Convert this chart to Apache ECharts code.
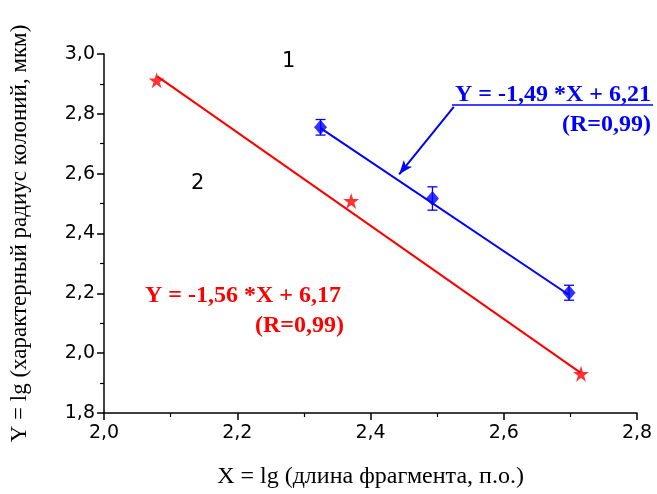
<!DOCTYPE html>
<html>
<head>
<meta charset="utf-8">
<script src="https://cdn.jsdelivr.net/npm/echarts@6/dist/echarts.min.js"></script>
<style>
  html, body { margin: 0; padding: 0; background: #fff; }
  #chart { width: 657px; height: 494px; }
</style>
</head>
<body>
<div id="chart"></div>
<script>
// Series 2 (red stars) and its linear fit
const redX = [2.079, 2.371, 2.716];
const redY = [2.912, 2.509, 1.931];
const redFitX = [2.08, 2.715];
const redFitY = [2.925, 1.935];

// Series 1 (blue diamonds with error bars) and its linear fit
const blueX = [2.325, 2.493, 2.698];
const blueY = [2.755, 2.517, 2.202];
const blueErr = [0.026, 0.039, 0.025];
const blueFitX = [2.325, 2.697];
const blueFitY = [2.752, 2.196];

// Axis ticks
const xTicks = [2.0, 2.2, 2.4, 2.6, 2.8];
const yTicks = [1.8, 2.0, 2.2, 2.4, 2.6, 2.8, 3.0];

// Arrow pointing from the blue equation to the blue fit line
const arrowFrom = [2.525, 2.823];
const arrowTo = [2.443, 2.598];

const RED = '#ff0000';
const BLUE = '#0000ff';
const STAR = 'path://M50,0 L61.2,34.5 L97.6,34.5 L68.2,55.9 L79.4,90.5 L50,69.1 L20.6,90.5 L31.8,55.9 L2.4,34.5 L38.8,34.5 Z';

const fmt = v => v.toFixed(1).replace('.', ',');
const zip = (a, b) => a.map((v, i) => [v, b[i]]);

const chart = echarts.init(document.getElementById('chart'));

const tickFont = { fontFamily: 'DejaVu Sans', fontSize: 19, color: '#000' };
const serif = 'Liberation Serif, Times New Roman, serif';

chart.setOption({
  animation: false,
  backgroundColor: '#fff',
  grid: { left: 102, right: 20, top: 54, bottom: 73, containLabel: false },
  xAxis: {
    type: 'value',
    min: xTicks[0], max: xTicks[xTicks.length - 1], interval: 0.2,
    name: 'X = lg (длина фрагмента, п.о.)',
    nameLocation: 'middle', nameGap: 52,
    nameTextStyle: { fontFamily: serif, fontSize: 24, color: '#000' },
    axisLine: { lineStyle: { color: '#000', width: 1.5 } },
    axisTick: { inside: false, length: 7, lineStyle: { color: '#000', width: 1.5 } },
    minorTick: { show: true, splitNumber: 2, length: 4, lineStyle: { color: '#000', width: 1.2 } },
    splitLine: { show: false },
    axisLabel: Object.assign({ margin: 11, formatter: fmt }, tickFont)
  },
  yAxis: {
    type: 'value',
    min: yTicks[0], max: yTicks[yTicks.length - 1], interval: 0.2,
    name: 'Y = lg (характерный радиус колоний, мкм)',
    nameLocation: 'middle', nameGap: 73,
    nameTextStyle: { fontFamily: serif, fontSize: 23, color: '#000' },
    axisLine: { show: true, lineStyle: { color: '#000', width: 1.5 } },
    axisTick: { show: true, inside: false, length: 7, lineStyle: { color: '#000', width: 1.5 } },
    minorTick: { show: true, splitNumber: 2, length: 4, lineStyle: { color: '#000', width: 1.2 } },
    splitLine: { show: false },
    axisLabel: Object.assign({ margin: 9, formatter: fmt }, tickFont)
  },
  series: [
    {
      name: 'fit2', type: 'line', data: zip(redFitX, redFitY),
      symbol: 'none', lineStyle: { color: RED, width: 2 }, z: 2
    },
    {
      name: 'fit1', type: 'line', data: zip(blueFitX, blueFitY),
      symbol: 'none', lineStyle: { color: BLUE, width: 2 }, z: 2,
      markLine: {
        silent: true, symbol: ['none', 'arrow'], symbolSize: [8, 14],
        label: { show: false },
        lineStyle: { color: BLUE, width: 2, type: 'solid' },
        data: [[{ coord: arrowFrom }, { coord: arrowTo }]]
      }
    },
    {
      name: 'err1', type: 'custom', z: 3,
      data: blueX.map((x, i) => [x, blueY[i] - blueErr[i], blueY[i] + blueErr[i]]),
      renderItem: (params, api) => {
        const lo = api.coord([api.value(0), api.value(1)]);
        const hi = api.coord([api.value(0), api.value(2)]);
        const w = 5;
        const style = { stroke: BLUE, lineWidth: 1.3 };
        return {
          type: 'group',
          children: [
            { type: 'line', shape: { x1: lo[0], y1: lo[1], x2: hi[0], y2: hi[1] }, style },
            { type: 'line', shape: { x1: lo[0] - w, y1: lo[1], x2: lo[0] + w, y2: lo[1] }, style },
            { type: 'line', shape: { x1: hi[0] - w, y1: hi[1], x2: hi[0] + w, y2: hi[1] }, style }
          ]
        };
      }
    },
    {
      name: 'series2', type: 'scatter', data: zip(redX, redY),
      symbol: STAR, symbolSize: 16, itemStyle: { color: RED }, z: 4
    },
    {
      name: 'series1', type: 'scatter', data: zip(blueX, blueY),
      symbol: 'diamond', symbolSize: [13, 15], itemStyle: { color: BLUE }, z: 4
    }
  ],
  graphic: [
    { type: 'text', left: 282, top: 51, style: { text: '1', font: '21px DejaVu Sans', fill: '#000' } },
    { type: 'text', left: 191, top: 173, style: { text: '2', font: '21px DejaVu Sans', fill: '#000' } },
    { type: 'text', right: 6, top: 83, style: { text: 'Y = -1,49 *X + 6,21', font: 'bold 24px ' + serif, fill: BLUE } },
    { type: 'line', shape: { x1: 452, y1: 105, x2: 653, y2: 105 }, style: { stroke: BLUE, lineWidth: 1.5 } },
    { type: 'text', right: 6, top: 113, style: { text: '(R=0,99)', font: 'bold 24px ' + serif, fill: BLUE } },
    { type: 'text', left: 145, top: 284, style: { text: 'Y = -1,56 *X + 6,17', font: 'bold 24px ' + serif, fill: RED } },
    { type: 'text', left: 255, top: 314, style: { text: '(R=0,99)', font: 'bold 24px ' + serif, fill: RED } }
  ]
});
</script>
</body>
</html>
